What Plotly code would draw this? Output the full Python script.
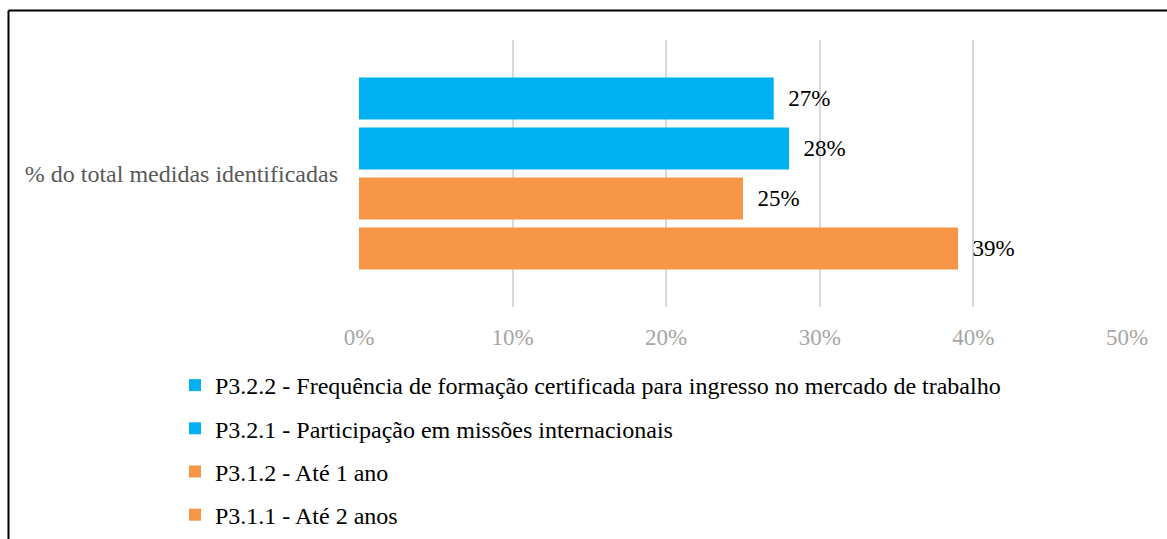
import plotly.graph_objects as go

# Series, bottom-to-top drawing order
category = ["% do total medidas identificadas"]
series_names = [
    "P3.1.1 - Até 2 anos",
    "P3.1.2 - Até 1 ano",
    "P3.2.1 - Participação em missões internacionais",
    "P3.2.2 - Frequência de formação certificada para ingresso no mercado de trabalho",
]
series_values = [0.39, 0.25, 0.28, 0.27]
series_colors = ["#F79646", "#F79646", "#00B0F0", "#00B0F0"]
x_ticks = [0, 0.1, 0.2, 0.3, 0.4, 0.5]
x_tick_labels = ["0%", "10%", "20%", "30%", "40%", "50%"]

FONT = "Liberation Serif"
W, H = 1167, 539
L, R, T, B = 359, 40, 40, 232
PW, PH = W - L - R, H - T - B


def px_to_paper_x(px):
    return (px - L) / PW


def px_to_paper_y(py):
    return (H - B - py) / PH


fig = go.Figure()
n = len(series_names)
for i, (name, val, col) in enumerate(zip(series_names, series_values, series_colors)):
    fig.add_trace(go.Bar(
        y=category,
        x=[val],
        name=name,
        orientation="h",
        marker=dict(color=col, line=dict(width=0)),
        text=[f"\u00a0\u00a0{val:.0%}"],
        textposition="outside",
        textfont=dict(family=FONT, size=23, color="#000000"),
        cliponaxis=False,
        legendgroup=f"g{i}",
        legendrank=n - i,
    ))

# Frame: top and left edges of the chart border
border = dict(color="#000000", width=2)
shapes = [
    dict(type="line", xref="paper", yref="paper",
         x0=px_to_paper_x(8.5), x1=px_to_paper_x(W + 20),
         y0=px_to_paper_y(10.5), y1=px_to_paper_y(10.5), line=border),
    dict(type="line", xref="paper", yref="paper",
         x0=px_to_paper_x(8.5), x1=px_to_paper_x(8.5),
         y0=px_to_paper_y(10.5), y1=px_to_paper_y(H + 20), line=border),
]

fig.update_layout(
    width=W,
    height=H,
    margin=dict(l=L, r=R, t=T, b=B, autoexpand=False),
    paper_bgcolor="white",
    plot_bgcolor="white",
    barmode="group",
    bargap=0.25,
    bargroupgap=0.16,
    font=dict(family=FONT, size=24, color="#000000"),
    xaxis=dict(
        range=[0, 0.5],
        tickvals=x_ticks,
        ticktext=x_tick_labels,
        showgrid=True,
        gridcolor="#d9d9d9",
        gridwidth=1.5,
        zeroline=False,
        showline=False,
        ticks="",
        tickfont=dict(family=FONT, size=23, color="#a6a6a6"),
        ticklabelstandoff=14,
    ),
    yaxis=dict(
        showgrid=False,
        zeroline=False,
        showline=False,
        ticks="",
        tickfont=dict(family=FONT, size=24, color="#595959"),
        ticklabelstandoff=20,
    ),
    showlegend=True,
    legend=dict(
        x=px_to_paper_x(175),
        y=px_to_paper_y(363),
        xanchor="left",
        yanchor="top",
        traceorder="grouped",
        tracegroupgap=9,
        font=dict(family=FONT, size=24, color="#000000"),
        bgcolor="rgba(0,0,0,0)",
        itemwidth=30,
    ),
    shapes=shapes,
)

fig.write_html("out.html")
